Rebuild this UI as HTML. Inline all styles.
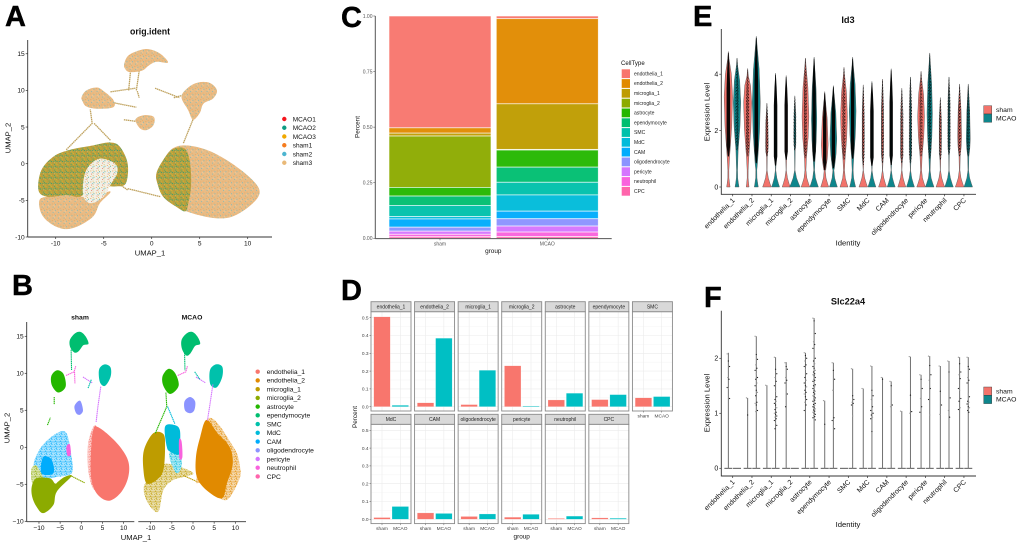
<!DOCTYPE html>
<html lang="en">
<head>
<meta charset="utf-8">
<title>Single-cell UMAP figure</title>
<style>
html,body{margin:0;padding:0;background:#fff;width:1020px;height:546px;overflow:hidden}
svg{display:block;filter:blur(0.35px);font-family:"Liberation Sans",sans-serif}
.tag{font-size:29px;font-weight:700;fill:#000;stroke:#000;stroke-width:.4px}
</style>
</head>
<body>
<svg id="fig" xmlns="http://www.w3.org/2000/svg" width="1020" height="546" viewBox="0 0 1020 546">
<rect width="1020" height="546" fill="#fff"/>
<defs id="defs"></defs>
<g id="panelA"></g>
<g id="panelB"></g>
<g id="panelC"></g>
<g id="panelD"></g>
<g id="panelE"></g>
<g id="panelF"></g>
<text class="tag" x="5" y="26">A</text>
<text class="tag" x="12" y="295">B</text>
<text class="tag" x="341" y="27">C</text>
<text class="tag" x="341" y="300">D</text>
<text class="tag" x="693" y="26">E</text>
<text class="tag" x="704" y="307">F</text>
</svg>
<script>
/* ---------- shared categories ---------- */
const cellTypes = ['endothelia_1','endothelia_2','microglia_1','microglia_2','astrocyte','ependymocyte','SMC','MdC','CAM','oligodendrocyte','pericyte','neutrophil','CPC'];
const cellColors = ['#F8766D','#E18A00','#BE9C00','#8CAB00','#24B700','#00BE70','#00C1AB','#00BBDA','#00ACFC','#8B93FF','#D575FE','#F962DD','#FF65AC'];
const groups = ['sham','MCAO'];
const groupColors = ['#F2736B','#0E868C'];

/* ---------- panel A data (UMAP units) ---------- */
const sampleNames = ['MCAO1','MCAO2','MCAO3','sham1','sham2','sham3'];
const sampleColors = ['#F5141C','#0E9B82','#F0A800','#F57C1F','#4DB5D0','#E9B978'];
const umapXTicks = [-10,-5,0,5,10];
const umapYTicks = [-10,-5,0,5,10,15];
const outlineRightAll = [[.5,-1.3],[1.2,.5],[2.2,2.1],[3.6,2.5],[5.7,1.9],[7.8,.5],[9.9,-1.5],[11.1,-3.2],[11.1,-4.5],[9.9,-6.1],[8.2,-7.3],[6.4,-7.4],[4.3,-6.8],[2.6,-5.9],[1.2,-4.5],[.6,-2.7]];
const outlineRightMixed = [[.5,-1.3],[1.2,.5],[2.2,2],[3.5,2],[4,0],[4.1,-3],[3.8,-5.5],[3.5,-6.5],[2.6,-5.9],[1.2,-4.5],[.6,-2.7]];
const outlineLeftLower = [[-11.7,-5],[-10.9,-4.5],[-8.9,-4.3],[-6.4,-4.5],[-4.3,-3.8],[-5.4,-5.4],[-6.1,-7.2],[-7.8,-8.6],[-9.2,-8.9],[-10.6,-8.1],[-11.5,-6.8]];
const outlineLeftUpper = [[-11.8,-3.6],[-11.5,-.9],[-10.2,1],[-8.5,1.9],[-6.1,2.5],[-4.3,2.9],[-3.3,2.3],[-2.5,0],[-2.7,-2.7],[-3.8,-3.1],[-4.7,-3.1],[-6.4,-3.6],[-7.5,-4.5],[-8.9,-4.3],[-10.9,-4.5]];
const outlineLeftHole = [[-6.6,-.4],[-5.4,.7],[-3.8,0],[-3.6,-1.3],[-4.3,-2.9],[-5,-4.5],[-6.3,-5.4],[-7.1,-4.5],[-7.1,-2.2]];
const outlineTop = [[-2.85,13.7],[-2.4,14.8],[-1.2,15.5],[-.2,15.6],[.9,15],[1.7,13.8],[.5,13.9],[-.3,13.4],[-1,12.7],[-2.3,12.5],[-2.8,13]];
const outlineUpperRight = [[3.1,9.1],[3.8,10.4],[4.9,11.1],[6.1,11],[6.8,10],[6.4,8.9],[5.4,8.2],[5,6.9],[4.3,6],[3.8,7.3]];
const outlineUpperLeft = [[-7.3,9.1],[-6.8,10],[-5.7,10.4],[-4.9,9.8],[-4,8.7],[-4,7.7],[-5.7,7.5],[-6.8,7.8],[-7.2,8.5]];
const outlineCentre = [[-1.7,6],[-.9,6.6],[.2,6.4],[.2,5.3],[-.5,4.6],[-1.2,4.8]];
const strandsA = [
 [[-8.9,1.9],[-6.2,5.5],[-6.4,7.4]],[[-6,5.5],[-4.3,3.2]],[[3.3,2.8],[4.2,5.7],[4.7,7.3]],
 [[2.3,9],[4,9.6]],[[.35,10.3],[2.9,9]],[[-2.4,10],[-2.2,12.7]],[[-1.6,10],[-1.3,12.7]],
 [[-4.3,9.8],[-1.7,10.3]],[[-4.3,8.4],[-1.6,7.7]],[[-2.9,6],[-1.2,5.7]],[[-2.5,-3.4],[.9,-4.5]],
 [[-4,-2.2],[-2.5,-3.6]],[[-1.5,9.9],[-1.3,9]]
];

/* ---------- panel B data (UMAP units, per cell type) ---------- */
const shamDense = [
 [0,[[3.6,2.8],[6,1.9],[9.1,.1],[11.1,-1.9],[11.1,-4],[9.5,-6],[6.8,-7.2],[4.4,-6.7],[2.8,-5.3],[2.2,-3.1],[2.4,.5],[2.8,2.3]]],
 [3,[[-11.7,-5.3],[-10.6,-4.2],[-7.4,-4.2],[-6.2,-4.9],[-5.4,-4.6],[-3.9,-4],[-2.3,-3.9],[-5.8,-6],[-6.6,-7.8],[-9,-8.9],[-10.6,-8],[-11.6,-6.7]]],
 [8,[[-9,-1.3],[-7,-1.7],[-6.6,-3.5],[-9.4,-3.5]]],
 [11,[[-3.5,.1],[-2.7,.4],[-2.5,-1],[-3.3,-1.1]]],
 [4,[[-7.1,9.6],[-5.8,10.4],[-4.2,9.9],[-3.7,8.2],[-5.4,7.4],[-6.9,8.3]]],
 [5,[[-2.7,14.5],[-1.5,15.4],[-.2,15.6],[1,15],[1.7,14],[.5,13.8],[-.6,13],[-1.6,12.8],[-2.6,13.5]]],
 [6,[[4.2,10.5],[5.5,11.2],[6.9,10.8],[6.9,9.5],[5.6,8.3],[4.4,8.8]]],
 [9,[[-1.6,5.6],[-.3,6.3],[.4,5],[-.3,4.4],[-1.2,4.6]]]
];
const shamSparse = [
 [8,[[-11.3,-2.6],[-9.4,.1],[-5.8,1.9],[-3.5,1.9],[-2.3,-1.3],[-2.3,-3.5],[-5.8,-4],[-9,-4.2]]],
 [0,[[3.3,3],[1.6,.5],[1.6,-3],[2.8,-5.6],[4,-5],[5,0]]],
 [3,[[-11.8,-3],[-10.6,-2.5],[-9,-4.4],[-11.4,-5]]]
];
const mcaoDense = [
 [1,[[3.2,3.7],[5.8,1.9],[8.6,.1],[9.4,-2.2],[8,-4.9],[6.8,-6.9],[3.2,-5.8],[.9,-4],[.7,-1.3],[1.7,1.4]]],
 [2,[[-11.7,-3.1],[-11.6,-.4],[-9.4,1.9],[-7,1.8],[-6.6,.1],[-7,-3.1],[-8.6,-4.4],[-10.9,-4.9]]],
 [7,[[-6.6,2.8],[-4.3,3],[-3.1,2.3],[-3.1,.1],[-3.4,-1],[-5.4,-.6],[-6.2,.1]]],
 [11,[[-3.3,1],[-2.7,.8],[-2.5,-1.3],[-3.2,-1.5]]],
 [4,[[-7.2,9.6],[-5.8,10.6],[-4.2,10],[-3.4,8.3],[-5.4,7.2],[-7,8.3]]],
 [5,[[-2.7,14.5],[-1.5,15.4],[-.2,15.6],[1,15],[1.7,14],[.5,13.7],[-.6,12.7],[-1.6,12.4],[-2.6,13.3]]],
 [6,[[4,10.4],[5.4,11.2],[6.9,10.9],[6.9,9.5],[5.6,8.1],[4.1,8.5]]],
 [9,[[-2,6.2],[-.7,6.8],[.5,6.2],[.3,5],[-.7,4.6],[-1.9,5]]]
];
const mcaoSparse = [
 [1,[[3.6,3.9],[9.5,.1],[11.1,-2.6],[10.9,-4.4],[8,-7.1],[4.8,-6.2],[1.7,-4.9],[.9,-4]]],
 [2,[[-11.6,-5.3],[-10.6,-7.6],[-8.2,-8.7],[-7,-5.8],[-4.6,-4.4],[.1,-3.5],[-6.2,-2.2],[-9,-3.5]]],
 [7,[[-5.4,-.6],[-3.1,-.6],[-2.7,-2.6],[-3.9,-3.5],[-5.4,-1.7]]]
];
const shamStrands = [
 [11,[[-3.6,9.7],[-1.7,10.2],[-1.3,11]]],[11,[[-1.6,10.2],[-1.5,8.6]]],[5,[[-2.4,13.2],[-2.3,10.4]]],
 [10,[[.4,9.5],[2.6,8.7]]],[6,[[1.6,8],[2.4,9.2]]],[10,[[4.6,8.2],[3.9,5.4],[3.5,3.4]]],
 [4,[[-6.4,6.8],[-6.4,5.8]]],[4,[[-8,3],[-7.3,4]]],[3,[[-2.3,-3.9],[.8,-4.8]]]
];
const mcaoStrands = [
 [4,[[-8.9,1.9],[-6.2,5.5],[-6.4,7.4]]],[7,[[-6,5.5],[-4.3,3.2]]],[11,[[-3.6,9.7],[-1.7,10.2],[-1.3,11]]],
 [5,[[-2,13],[-1.9,10.4]]],[10,[[.7,9.5],[3,8.7]]],[6,[[.4,10.2],[1.6,9.2]]],
 [10,[[4.7,8.5],[3.9,5.4],[3.4,3.6]]],[2,[[-2.3,-3.8],[.8,-4.6]]]
];

/* ---------- panel C data (stack shares, CellType order) ---------- */
const shamShare = [.503,.024,.013,.231,.039,.042,.05,.011,.037,.018,.014,.011,.007];
const mcaoShare = [.012,.383,.205,.003,.077,.068,.057,.073,.034,.033,.027,.02,.008];
const shareTicks = ['0.00','0.25','0.50','0.75','1.00'];

/* ---------- panel D data ---------- */
const shamPercent = [.505,.022,.012,.23,.038,.04,.05,.01,.036,.016,.012,.005,.008];
const mcaoPercent = [.008,.385,.205,.004,.076,.068,.057,.072,.033,.03,.028,.018,.006];
const percentTicks = [0,.1,.2,.3,.4,.5];

/* ---------- panel E data ---------- */
const exprTicksE = [0,2,4];
const id3TopSham = [4.8,4.2,2.97,3.95,4.57,3.38,4.24,3.62,3.82,3.5,4.1,3.17,3.65];
const id3TopMcao = [4.57,5.34,4.03,3.23,4.6,3.59,4.6,3.74,4.19,3.9,4.75,3.9,3.65];
const id3LowSham = [1.08,1.08,1.08,.96,1.02,.6,.96,.78,.84,.84,1.08,.96,1.08];
const id3LowMcao = [1.3,.84,.76,1.3,.9,.66,1,.75,.78,.84,1,1.14,1.08];
const id3ModeSham = [3.2,3,1.5,1.8,2.5,1.5,2.5,1.8,1.8,1.3,2.5,1.8,1.8];
const id3ModeMcao = [3,3,1.5,1.8,2.4,1.7,2.7,1.8,1.6,1.5,2.6,1.9,1.7];
const id3BodySham = [4.2,4,1.3,1,3.4,3.4,3.4,1,1,1,3.4,1,2];
const id3BodyMcao = [3.7,4,1.3,1,2.7,3.4,3.4,1,1,1,2.7,1,2];
const id3ZeroSham = [1.7,1.4,4.3,4,4.3,4,4,4.3,4,4,4.3,4.3,4.3];
const id3ZeroMcao = [2,2,4,5.3,4.3,4,3,4,4,4,4.3,4.3,4.3];
const id3MassSham = [1,.6,.35,.8,.6,.85,.6,.35,.5,.6,.5,.4,.4];
const id3MassMcao = [.55,1,.9,.3,.85,.9,.8,.9,.8,.6,.7,.6,.4];

/* ---------- panel F data ---------- */
const exprTicksF = [0,1,2];
const slcTopSham = [2.1,1.28,1.51,1.93,2.1,1.23,0,1.45,1.65,1.04,1.7,1.86,2.02];
const slcTopMcao = [0,2.4,2.02,0,2.73,1.92,1.81,1.86,1.58,2.03,2.04,1.95,2.02];
const slcPointsSham = [
 [2.08,1.95,1.85,1.65,1.62,1.47,1.45,1.27],[1.28,.97],[1.51],
 [1.92,1.85,1.8,1.65,1.6,1.55,1.4,1.35,1.12],
 [2.1,2.05,2,1.95,1.88,1.85,1.8,1.72,1.65,1.6,1.55,1.5,1.48,1.42,1.38,1.35,1.3,1.25,1.2,1.15,1.05],
 [1.23,.8],[],[1.45],[1.65,1.62],[1.04],[1.7,1.62,1.45,1.27,1.12,1.02],[1.86,1.4,1.15,.98],
 [2.02,1.9,1.75,1.7,1.63,1.45,1.42,1.27,1.22,1.1,1.07]
];
const slcPointsMcao = [
 [],[2.4,2.07,1.98,1.88,1.82,1.78,1.72,1.65,1.62,1.55,1.5,1.42,1.38,1.32,1.2,1.18,1.15,1.05,1.03],
 [2.02,1.8,1.72,1.65,1.58,1.5,1.4,1.3,1.25,1.22,1.18,1.15,1.1,1.07,1.02,1,.98,.95,.93,.9,.87,.82,.78,.72],
 [],
 [2.73,2.68,2.45,2.3,2.25,2.18,2.08,2,1.95,1.9,1.85,1.82,1.78,1.75,1.72,1.7,1.68,1.65,1.62,1.6,1.58,1.55,1.52,1.5,1.48,1.45,1.42,1.4,1.38,1.35,1.32,1.3,1.28,1.26,1.24,1.22,1.2,1.18,1.16,1.14,1.12,1.1,1.08,1.06,1.04,1.02,1,.98,.96,.94,.92,.9,.88],
 [1.92,1.78,1.62,1.42,.92,.87,.77,.72],[1.81,1.32,1.25,1.2,1.18,1.15,.95],
 [1.86,1.42,1.32,1.25,1.12,1.05,1.02,1,.97,.93,.9,.67],[1.58,1.5,1.15,1.12],[2.03,1.33,1.03,1],
 [2.04,1.87,1.7,1.6,1.45,1.25,.97],[1.95,1.75,1.28,1.05,.93],
 [2.02,1.85,1.8,1.65,1.6,1.55,1.35,1.3,1.22,1.2,1.17,1.12,1.1,1.05,1.02]
];

/* ---------- helpers ---------- */
const NS = 'http://www.w3.org/2000/svg';
function mk(parent, tag, attrs, name, interactable) {
  const node = document.createElementNS(NS, tag);
  for (const k in attrs) node.setAttribute(k, attrs[k]);
  
  
  parent.appendChild(node);
  return node;
}
function line(p, x1, y1, x2, y2, stroke, w, name) {
  return mk(p, 'line', {x1, y1, x2, y2, stroke, 'stroke-width': w}, name, false);
}
function label(p, x, y, str, size, opts, name) {
  const t = mk(p, 'text', Object.assign({x, y, 'font-size': size, fill: '#111'}, opts || {}), name, false);
  t.textContent = str;
  return t;
}
/* closed Catmull-Rom curve passing through every outline vertex */
function smooth(pts, sx, sy) {
  const P = pts.map(q => [sx(q[0]), sy(q[1])]);
  const n = P.length;
  const f = v => v.toFixed(2);
  let d = 'M' + f(P[0][0]) + ' ' + f(P[0][1]);
  for (let i = 0; i < n; i++) {
    const p0 = P[(i - 1 + n) % n], p1 = P[i], p2 = P[(i + 1) % n], p3 = P[(i + 2) % n];
    d += 'C' + f(p1[0] + (p2[0] - p0[0]) / 6) + ' ' + f(p1[1] + (p2[1] - p0[1]) / 6) + ' ' +
         f(p2[0] - (p3[0] - p1[0]) / 6) + ' ' + f(p2[1] - (p3[1] - p1[1]) / 6) + ' ' + f(p2[0]) + ' ' + f(p2[1]);
  }
  return d + 'Z';
}
function polyline(pts, sx, sy) {
  return pts.map((q, i) => (i ? 'L' : 'M') + sx(q[0]).toFixed(2) + ' ' + sy(q[1]).toFixed(2)).join('');
}
function tint(hex, k) {
  const n = parseInt(hex.slice(1), 16);
  const ch = s => Math.round(((n >> s) & 255) * k + 255 * (1 - k));
  return 'rgb(' + ch(16) + ',' + ch(8) + ',' + ch(0) + ')';
}

/* texture patterns (speckle only, carries no data) */
const defs = document.getElementById('defs');
const speckCells = [[0,1],[3,0],[5,2],[1,4],[4,4],[6,6],[2,6],[6,3],[2,2]];
function pattern(id, base, colors, step, dot) {
  const pat = document.createElementNS(NS, 'pattern');
  pat.setAttribute('id', id);
  pat.setAttribute('width', step);
  pat.setAttribute('height', step);
  pat.setAttribute('patternUnits', 'userSpaceOnUse');
  if (base) {
    const bg = document.createElementNS(NS, 'rect');
    bg.setAttribute('width', step);
    bg.setAttribute('height', step);
    bg.setAttribute('fill', base);
    pat.appendChild(bg);
  }
  speckCells.forEach((c, i) => {
    const col = colors[i % colors.length];
    if (!col) return;
    const r = document.createElementNS(NS, 'rect');
    r.setAttribute('x', c[0] * step / 7);
    r.setAttribute('y', c[1] * step / 7);
    r.setAttribute('width', dot);
    r.setAttribute('height', dot);
    r.setAttribute('fill', col);
    pat.appendChild(r);
  });
  defs.appendChild(pat);
}
pattern('mixDark', '#B3A340', ['#2E9A78','#D98F2A','#3F9F74','#E8B02C','#C8813A','#2E9A78','#E8B02C','#DDB566','#2E9A78'], 5.5, .9);
pattern('mixTan', '#E9BB84', ['#74BBC2','#E2A964','#F0CA9A',null,'#7DBBBC','#E2A964',null,'#F0CA9A',null], 5.5, .9);
pattern('holeA', '#F2F0E6', ['#4EA98C','#E8A555','#7CC0D0',null,'#E07A60','#E3B23C',null,'#E9B978',null], 5.5, .9);
pattern('speck', null, ['#000','#000','#000','#000','#000','#000','#000','#000','#000'], 3.2, .8);
cellColors.forEach((c, i) => pattern('sparse' + i, tint(c, .35), [c,null,c,c,null,c,c,null,c], 5, 1));

function umapAxes(g, x0, x1, yb, yt, sx, sy, showY, prefix) {
  line(g, x0, yb, x1, yb, '#333', .9, prefix + '-x-axis-line');
  umapXTicks.forEach(v => {
    line(g, sx(v), yb, sx(v), yb + 2, '#333', .7, prefix + '-x-tick');
    label(g, sx(v), yb + 8.5, String(v).replace('-', showY === 'B' ? '\u2212' : '-'), 6.6, {'text-anchor': 'middle'}, prefix + '-x-tick-label');
  });
  if (showY) {
    line(g, x0, yt, x0, yb, '#333', .9, prefix + '-y-axis-line');
    umapYTicks.forEach(v => {
      line(g, x0 - 2, sy(v), x0, sy(v), '#333', .7, prefix + '-y-tick');
      label(g, x0 - 3, sy(v) + 2.3, String(v).replace('-', showY === 'B' ? '\u2212' : '-'), 6.6, {'text-anchor': 'end'}, prefix + '-y-tick-label');
    });
  }
}

/* ---------- PANEL A ---------- */
(function () {
  const g = document.getElementById('panelA');
  const sx = v => 151.7 + v * 9.6;
  const sy = v => 163.7 - v * 7.33;
  const fillShape = (pts, fill, name) => mk(g, 'path', {d: smooth(pts, sx, sy), fill}, name, false);
  strandsA.forEach(s => {
    mk(g, 'path', {d: polyline(s, sx, sy), fill: 'none', stroke: '#BFA25E', 'stroke-width': 1.3, 'stroke-dasharray': '1.5 .5'}, 'umap-a-strand', false);
  });
  fillShape(outlineRightAll, 'url(#mixTan)', 'umap-a-right-cluster');
  fillShape(outlineRightMixed, 'url(#mixDark)', 'umap-a-right-mixed-region');
  fillShape(outlineLeftLower, 'url(#mixTan)', 'umap-a-lower-left-cluster');
  fillShape(outlineLeftUpper, 'url(#mixDark)', 'umap-a-upper-left-cluster');
  fillShape(outlineLeftHole, 'url(#holeA)', 'umap-a-sparse-gap');
  fillShape(outlineTop, 'url(#mixTan)', 'umap-a-top-cluster');
  fillShape(outlineUpperRight, 'url(#mixTan)', 'umap-a-upper-right-cluster');
  fillShape(outlineUpperLeft, 'url(#mixTan)', 'umap-a-upper-left-small-cluster');
  fillShape(outlineCentre, 'url(#mixTan)', 'umap-a-centre-cluster');
  umapAxes(g, 27.7, 272, 237, 40, sx, sy, 'A', 'umap-a');
  label(g, 150, 34.5, 'orig.ident', 8.8, {'text-anchor': 'middle', 'font-weight': 700}, 'umap-a-title');
  label(g, 150, 255.5, 'UMAP_1', 7.6, {'text-anchor': 'middle'}, 'umap-a-x-title');
  label(g, 0, 0, 'UMAP_2', 7.6, {'text-anchor': 'middle', transform: 'translate(10.5 138) rotate(-90)'}, 'umap-a-y-title');
  sampleNames.forEach((n, i) => {
    const yy = 119 + i * 8.75;
    mk(g, 'circle', {cx: 284.3, cy: yy, r: 2.2, fill: sampleColors[i]}, 'legend-a-dot-' + n, false);
    label(g, 292.7, yy + 2.3, n, 6.5, {}, 'legend-a-label-' + n);
  });
})();

/* ---------- PANEL B ---------- */
(function () {
  const g = document.getElementById('panelB');
  const sy = v => 447.3 - v * 7.4;
  const facet = (zero, dense, sparse, strands, prefix) => {
    const sx = v => zero + v * 4.233;
    sparse.forEach(b => {
      mk(g, 'path', {d: smooth(b[1], sx, sy), fill: 'url(#sparse' + b[0] + ')'}, prefix + '-sparse-' + cellTypes[b[0]], false);
    });
    dense.forEach(b => {
      mk(g, 'path', {d: smooth(b[1], sx, sy), fill: cellColors[b[0]]}, prefix + '-cluster-' + cellTypes[b[0]], false);
    });
    strands.forEach(b => {
      mk(g, 'path', {d: polyline(b[1], sx, sy), fill: 'none', stroke: cellColors[b[0]], 'stroke-width': 1.1, 'stroke-dasharray': '1.4 .5'}, prefix + '-strand-' + cellTypes[b[0]], false);
    });
    return sx;
  };
  const sxS = facet(81.3, shamDense, shamSparse, shamStrands, 'umap-b-sham');
  const sxM = facet(193, mcaoDense, mcaoSparse, mcaoStrands, 'umap-b-mcao');
  umapAxes(g, 26.7, 134.3, 521.7, 322, sxS, sy, 'B', 'umap-b-sham');
  umapAxes(g, 138.3, 246, 521.7, 322, sxM, sy, false, 'umap-b-mcao');
  label(g, 80, 319.5, 'sham', 6.8, {'text-anchor': 'middle', 'font-weight': 700}, 'umap-b-facet-sham');
  label(g, 192, 319.5, 'MCAO', 6.8, {'text-anchor': 'middle', 'font-weight': 700}, 'umap-b-facet-mcao');
  label(g, 136, 540, 'UMAP_1', 7.6, {'text-anchor': 'middle'}, 'umap-b-x-title');
  label(g, 0, 0, 'UMAP_2', 7.6, {'text-anchor': 'middle', transform: 'translate(9.5 428) rotate(-90)'}, 'umap-b-y-title');
  cellTypes.forEach((n, i) => {
    const yy = 371.7 + i * 8.73;
    mk(g, 'circle', {cx: 257.7, cy: yy, r: 2.2, fill: cellColors[i]}, 'legend-b-dot-' + n, false);
    label(g, 266.7, yy + 2.3, n, 6.7, {}, 'legend-b-label-' + n);
  });
})();

/* ---------- PANEL C ---------- */
(function () {
  const g = document.getElementById('panelC');
  const sy = v => 238.3 - v * 222.3;
  const barX = [389, 496.3];
  const barW = 102;
  [shamShare, mcaoShare].forEach((series, s) => {
    let top = 1;
    series.forEach((v, i) => {
      const bottom = top - v;
      mk(g, 'rect', {x: barX[s], y: sy(top), width: barW, height: Math.max(sy(bottom) - sy(top), .3), fill: cellColors[i], stroke: '#fff', 'stroke-opacity': .75, 'stroke-width': .8, 'fill-opacity': .96}, 'stack-' + groups[s] + '-' + cellTypes[i], false);
      top = bottom;
    });
    const cx = barX[s] + barW / 2;
    line(g, cx, 238.3, cx, 240.3, '#555', .6, 'stack-x-tick');
    label(g, cx, 245.5, groups[s], 5, {'text-anchor': 'middle', fill: '#555'}, 'stack-x-label-' + groups[s]);
  });
  line(g, 375.3, 16, 375.3, 238.8, '#555', 1, 'stack-y-axis-line');
  line(g, 375.3, 238.6, 611.7, 238.6, '#555', 1, 'stack-x-axis-line');
  shareTicks.forEach(t => {
    const yy = sy(parseFloat(t));
    line(g, 373.3, yy, 375.3, yy, '#555', .6, 'stack-y-tick');
    label(g, 372.5, yy + 1.8, t, 5, {'text-anchor': 'end', fill: '#555'}, 'stack-y-label');
  });
  label(g, 493.3, 253, 'group', 6.4, {'text-anchor': 'middle'}, 'stack-x-title');
  label(g, 0, 0, 'Percent', 6.4, {'text-anchor': 'middle', transform: 'translate(359.5 127) rotate(-90)'}, 'stack-y-title');
  label(g, 621, 65, 'CellType', 6.1, {}, 'stack-legend-title');
  cellTypes.forEach((n, i) => {
    const yy = 69.3 + i * 9.8;
    mk(g, 'rect', {x: 621.7, y: yy, width: 8.3, height: 8.8, fill: cellColors[i]}, 'stack-legend-swatch-' + n, false);
    label(g, 634, yy + 6.1, n, 5.05, {fill: '#222'}, 'stack-legend-label-' + n);
  });
})();

/* ---------- PANEL D ---------- */
(function () {
  const g = document.getElementById('panelD');
  const stepX = 43.57, left = 371, w = 40, scale = 178;
  cellTypes.forEach((n, i) => {
    const col = i < 7 ? i : i - 7;
    const row = i < 7 ? 0 : 1;
    const x0 = left + col * stepX;
    const stripTop = row ? 414.3 : 301.7;
    const panelTop = stripTop + 10;
    const panelH = 99.3;
    const base = row ? 519.3 : 406.7;
    const sy = v => base - v * scale;
    const bx = [x0 + 2.7, x0 + 21];
    mk(g, 'rect', {x: x0, y: panelTop, width: w, height: panelH, fill: '#fff'}, 'facet-panel-' + n, false);
    percentTicks.forEach(t => {
      line(g, x0, sy(t), x0 + w, sy(t), '#EBEBEB', .6, 'facet-grid-major');
      if (t < .5) line(g, x0, sy(t + .05), x0 + w, sy(t + .05), '#F3F3F3', .4, 'facet-grid-minor');
    });
    bx.forEach(b => line(g, b + 8.3, panelTop, b + 8.3, panelTop + panelH, '#EBEBEB', .6, 'facet-grid-vertical'));
    [shamPercent[i], mcaoPercent[i]].forEach((v, s) => {
      mk(g, 'rect', {x: bx[s], y: sy(v), width: 16.6, height: v * scale, fill: s ? '#00BFC4' : '#F8766D', stroke: '#fff', 'stroke-opacity': .6, 'stroke-width': .4}, 'facet-bar-' + n + '-' + groups[s], false);
    });
    mk(g, 'rect', {x: x0, y: panelTop, width: w, height: panelH, fill: 'none', stroke: '#8A8A8A', 'stroke-width': .9}, 'facet-border-' + n, false);
    mk(g, 'rect', {x: x0, y: stripTop, width: w, height: 10, fill: '#D9D9D9', stroke: '#8A8A8A', 'stroke-width': .9}, 'facet-strip-' + n, false);
    label(g, x0 + w / 2, stripTop + 6.9, n, 5, {'text-anchor': 'middle', fill: '#222'}, 'facet-strip-label-' + n);
    const showX = row === 1 || i === 6;
    if (showX) {
      ['sham', 'MCAO'].forEach((t, s) => {
        line(g, bx[s] + 8.3, panelTop + panelH, bx[s] + 8.3, panelTop + panelH + 1.5, '#555', .5, 'facet-x-tick');
        label(g, bx[s] + 8.3, panelTop + panelH + 6.5, t, 4.8, {'text-anchor': 'middle', fill: '#444'}, 'facet-x-label');
      });
    }
    if (col === 0) {
      percentTicks.forEach(t => {
        line(g, x0 - 1.5, sy(t), x0, sy(t), '#555', .5, 'facet-y-tick');
        label(g, x0 - 2.5, sy(t) + 1.7, t.toFixed(1), 4.8, {'text-anchor': 'end', fill: '#444'}, 'facet-y-label');
      });
    }
  });
  label(g, 521.7, 538.5, 'group', 6.4, {'text-anchor': 'middle'}, 'facet-x-title');
  label(g, 0, 0, 'Percent', 6.4, {'text-anchor': 'middle', transform: 'translate(357 417) rotate(-90)'}, 'facet-y-title');
})();

/* ---------- PANELS E / F shared axes ---------- */
const catX = i => 732.7 + i * 19.27;
function violinAxes(g, yb, yt, sy, ticks, title, titleY, xTitleY, yTitleY, legendY, prefix) {
  line(g, 721.3, yt, 721.3, yb + .4, '#333', .9, prefix + '-y-axis-line');
  line(g, 721.3, yb, 976, yb, '#333', .9, prefix + '-x-axis-line');
  ticks.forEach(t => {
    line(g, 719.3, sy(t), 721.3, sy(t), '#333', .7, prefix + '-y-tick');
    label(g, 718.3, sy(t) + 2.4, String(t), 7, {'text-anchor': 'end'}, prefix + '-y-label');
  });
  cellTypes.forEach((n, i) => {
    line(g, catX(i), yb, catX(i), yb + 2, '#333', .7, prefix + '-x-tick');
    label(g, 0, 0, n, 7, {'text-anchor': 'end', transform: 'translate(' + (catX(i) + 2.5) + ' ' + (yb + 6.5) + ') rotate(-45)'}, prefix + '-x-label-' + n);
  });
  label(g, 848, titleY, title, 9.2, {'text-anchor': 'middle', 'font-weight': 700}, prefix + '-title');
  label(g, 848, xTitleY, 'Identity', 7.7, {'text-anchor': 'middle'}, prefix + '-x-title');
  label(g, 0, 0, 'Expression Level', 7.7, {'text-anchor': 'middle', transform: 'translate(709.5 ' + yTitleY + ') rotate(-90)'}, prefix + '-y-title');
  groups.forEach((n, s) => {
    const yy = legendY + s * 8.3;
    mk(g, 'rect', {x: 983.7, y: yy, width: 8, height: 8.3, fill: groupColors[s], stroke: '#333', 'stroke-width': .4}, prefix + '-legend-swatch-' + n, false);
    label(g, 996, yy + 6.4, n, 6.8, {}, prefix + '-legend-label-' + n);
  });
}

/* ---------- PANEL E ---------- */
(function () {
  const g = document.getElementById('panelE');
  const sy = v => 187 - v * 28.2;
  const draw = (top, low, mode, body, zero, mass, s) => {
    cellTypes.forEach((n, i) => {
      const cx = catX(i) + (s ? 4.33 : -4.33);
      const levels = [
        [0, zero[i]], [.12, zero[i] * .72], [.32, zero[i] * .32], [.6, Math.min(.5, body[i] * .15)],
        [low[i], Math.max(.4, body[i] * .3)],
        [(low[i] + mode[i]) / 2, body[i] * .8], [mode[i], body[i]],
        [(mode[i] + top[i]) / 2, body[i] * .72], [top[i] - .25, Math.max(.2, body[i] * .15)], [top[i], .1]
      ];
      const right = levels.map(q => (cx + q[1]).toFixed(2) + ' ' + sy(q[0]).toFixed(2));
      const left = levels.slice().reverse().map(q => (cx - q[1]).toFixed(2) + ' ' + sy(q[0]).toFixed(2));
      mk(g, 'path', {d: 'M' + right.concat(left).join('L') + 'Z', fill: groupColors[s], stroke: '#5a5a5a', 'stroke-width': .45, 'stroke-linejoin': 'round'}, 'violin-' + n + '-' + groups[s], false);
      const half = 1.1 + mass[i] * .7;
      const span = top[i] - low[i];
      const pts = [[low[i], .5], [low[i] + span * .1, half], [low[i] + span * .65, half], [low[i] + span * .85, half * .6], [top[i] - .05, .3]];
      const rr = pts.map(q => (cx + q[1]).toFixed(2) + ' ' + sy(q[0]).toFixed(2));
      const ll = pts.slice().reverse().map(q => (cx - q[1]).toFixed(2) + ' ' + sy(q[0]).toFixed(2));
      const solid = mass[i] >= .8;
      mk(g, 'path', {d: 'M' + rr.concat(ll).join('L') + 'Z', fill: solid ? '#000' : 'url(#speck)', 'fill-opacity': solid ? .95 : 1}, 'violin-points-' + n + '-' + groups[s], false);
    });
  };
  draw(id3TopSham, id3LowSham, id3ModeSham, id3BodySham, id3ZeroSham, id3MassSham, 0);
  draw(id3TopMcao, id3LowMcao, id3ModeMcao, id3BodyMcao, id3ZeroMcao, id3MassMcao, 1);
  violinAxes(g, 194.3, 29, sy, exprTicksE, 'Id3', 23, 245.3, 112, 105.7, 'violin-e');
})();

/* ---------- PANEL F ---------- */
(function () {
  const g = document.getElementById('panelF');
  const sy = v => 468.3 - v * 55;
  const draw = (top, points, s) => {
    cellTypes.forEach((n, i) => {
      const cx = catX(i) + (s ? 4.33 : -4.33);
      line(g, cx - 4, sy(0), cx + 4, sy(0), '#444', .9, 'violin-f-zero-' + n + '-' + groups[s]);
      if (top[i] > 0) {
        line(g, cx, sy(0), cx, sy(top[i]), '#707070', 1, 'violin-f-spine-' + n + '-' + groups[s]);
      }
      points[i].forEach((v, k) => {
        const off = ((k * 7) % 5 - 2) * .6;
        mk(g, 'circle', {cx: cx + off, cy: sy(v), r: .62, fill: k % 3 ? '#222' : '#999'}, 'violin-f-point-' + n, false);
      });
    });
  };
  draw(slcTopSham, slcPointsSham, 0);
  draw(slcTopMcao, slcPointsMcao, 1);
  violinAxes(g, 476, 310.7, sy, exprTicksF, 'Slc22a4', 304.5, 527, 403, 387, 'violin-f');
})();
</script>
</body>
</html>
